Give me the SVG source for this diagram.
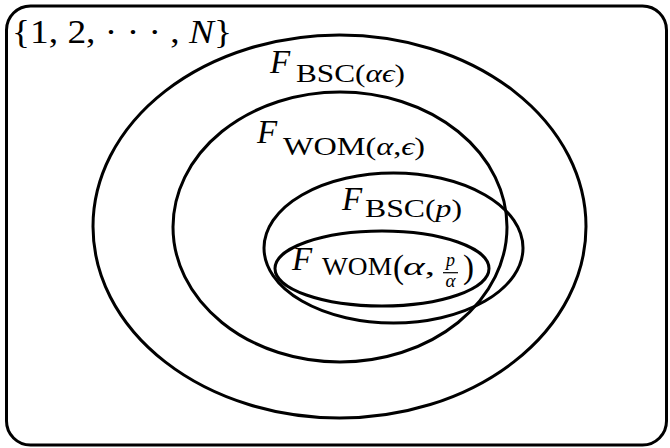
<svg xmlns="http://www.w3.org/2000/svg" width="670" height="448" viewBox="0 0 670 448">
<style>
.sh{fill:none;stroke:#000;stroke-width:3}
.t{font-family:"Liberation Serif","DejaVu Serif",serif;fill:#000}
.i{font-style:italic}
.big{font-size:33px}
.sub{font-size:26px}
</style>
<rect width="670" height="448" fill="#fff"/>
<g id="universe">
<rect class="sh" x="6.5" y="6" width="660" height="439" rx="24" ry="24" stroke-width="3.5"/>
<text class="t" x="12" y="43" font-size="34" textLength="220" lengthAdjust="spacingAndGlyphs">{1, 2, · · · , <tspan class="i">N</tspan>}</text>
</g>
<g id="bsc-alpha-eps">
<ellipse class="sh" cx="339.5" cy="226.5" rx="246.5" ry="191.5"/>
<text class="t i big" x="270" y="72.5">F</text>
<text class="t sub" x="296" y="82" textLength="109" lengthAdjust="spacingAndGlyphs">BSC(<tspan class="i">αϵ</tspan>)</text>
</g>
<g id="wom-alpha-eps">
<ellipse class="sh" cx="340" cy="227" rx="167" ry="135"/>
<text class="t i big" x="257" y="143">F</text>
<text class="t sub" x="283" y="155" textLength="142" lengthAdjust="spacingAndGlyphs">WOM(<tspan class="i">α</tspan>,<tspan class="i">ϵ</tspan>)</text>
</g>
<g id="bsc-p">
<ellipse class="sh" cx="393.5" cy="248" rx="129.5" ry="75"/>
<text class="t i big" x="342" y="210">F</text>
<text class="t sub" x="365" y="217" textLength="97" lengthAdjust="spacingAndGlyphs">BSC(<tspan class="i">p</tspan>)</text>
</g>
<g id="wom-alpha-p-over-alpha">
<ellipse class="sh" cx="382" cy="268.5" rx="107" ry="37.5"/>
<text class="t i big" x="292" y="270">F</text>
<text class="t sub" x="322" y="275" textLength="70" lengthAdjust="spacingAndGlyphs">WOM</text>
<text class="t big" x="393" y="278">(</text>
<text class="t sub" x="403" y="275" textLength="32" lengthAdjust="spacingAndGlyphs"><tspan class="i">α</tspan>,</text>
<text class="t i" x="450.5" y="266" font-size="18" text-anchor="middle">p</text>
<line x1="443" y1="272.7" x2="458" y2="272.7" stroke="#000" stroke-width="1.2"/>
<text class="t i" x="450.5" y="287" font-size="19" text-anchor="middle">α</text>
<text class="t big" x="463" y="278">)</text>
</g>
</svg>
